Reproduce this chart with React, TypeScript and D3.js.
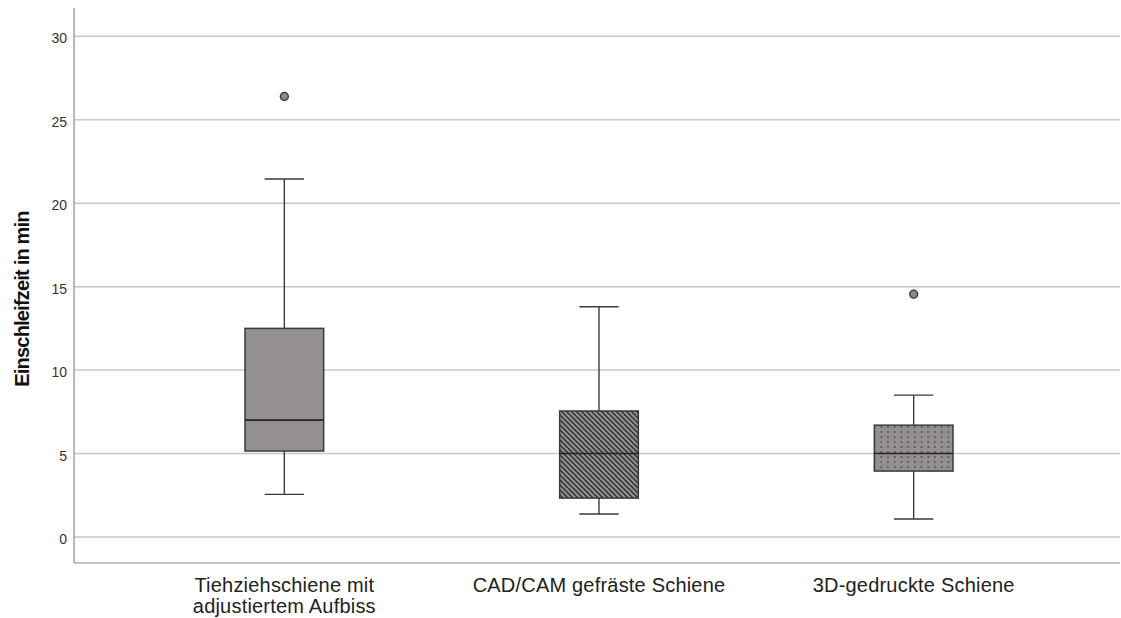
import React from "react";
import * as d3 from "d3";

const categories = ["Tiehziehschiene mit\nadjustiertem Aufbiss", "CAD/CAM gefräste Schiene", "3D-gedruckte Schiene"];
const whiskerLow = [2.55, 1.38, 1.08];
const q1 = [5.15, 2.33, 3.95];
const medians = [7.0, 5.0, 5.0];
const q3 = [12.5, 7.55, 6.7];
const whiskerHigh = [21.45, 13.8, 8.5];
const outliers = [[26.4], [], [14.55]];
const yTicks = [0, 5, 10, 15, 20, 25, 30];
const fills = ["url(#solid)", "url(#hatch)", "url(#dots)"];

const W = 1121;
const H = 618;
const left = 74;
const right = 1120;
const top = 8;
const bottom = 563;

export default function App() {
  const y = d3.scaleLinear().domain([-1.56, 31.7]).range([bottom, top]);
  const x = d3.scaleBand().domain(categories).range([127, 1071]).padding(0);
  const boxW = x.bandwidth() * 0.25;
  const capW = boxW / 2;
  const boxFill = "#959090";
  const edge = "#3a3a3a";

  return (
    <svg width={W} height={H} style={{ position: "absolute", left: 0, top: 0, fontFamily: "'Liberation Sans', Arial, sans-serif" }}>
      <defs>
        <pattern id="solid" width="4" height="4" patternUnits="userSpaceOnUse">
          <rect width="4" height="4" fill={boxFill} />
        </pattern>
        <pattern id="hatch" width="5" height="5" patternUnits="userSpaceOnUse">
          <rect width="5" height="5" fill={boxFill} />
          <path d="M-1,-1 L6,6 M-1,4 L1,6 M4,-1 L6,1" stroke="#2a2a2a" strokeWidth="1.3" />
        </pattern>
        <pattern id="dots" width="6.7" height="5" patternUnits="userSpaceOnUse">
          <rect width="6.7" height="5" fill={boxFill} />
          <rect x="3" y="1" width="1.2" height="2" fill="#4a4545" />
        </pattern>
      </defs>
      <rect width={W} height={H} fill="#fff" />
      {yTicks.map((t) => (
        <g key={t}>
          <line x1={left} x2={right} y1={y(t)} y2={y(t)} stroke="#c8c8c8" strokeWidth={1.5} />
          <text x={67} y={y(t)} dy="0.5em" textAnchor="end" fontSize={14} fill="#333">{t}</text>
        </g>
      ))}
      <line x1={left} x2={left} y1={top} y2={bottom} stroke="#8a8a8a" strokeWidth={1.2} />
      <line x1={left} x2={right} y1={bottom} y2={bottom} stroke="#8a8a8a" strokeWidth={1.2} />
      <text transform="translate(29,299) rotate(-90)" textAnchor="middle" fontSize={20} fontWeight="bold" letterSpacing={-0.8} fill="#111">
        Einschleifzeit in min
      </text>
      {categories.map((c, i) => {
        const cx = (x(c) as number) + x.bandwidth() / 2;
        return (
          <g key={c}>
            <line x1={cx} x2={cx} y1={y(whiskerHigh[i])} y2={y(q3[i])} stroke={edge} strokeWidth={1.4} />
            <line x1={cx} x2={cx} y1={y(q1[i])} y2={y(whiskerLow[i])} stroke={edge} strokeWidth={1.4} />
            <line x1={cx - capW / 2} x2={cx + capW / 2} y1={y(whiskerHigh[i])} y2={y(whiskerHigh[i])} stroke={edge} strokeWidth={1.4} />
            <line x1={cx - capW / 2} x2={cx + capW / 2} y1={y(whiskerLow[i])} y2={y(whiskerLow[i])} stroke={edge} strokeWidth={1.4} />
            <rect x={cx - boxW / 2} width={boxW} y={y(q3[i])} height={y(q1[i]) - y(q3[i])} fill={fills[i]} stroke={edge} strokeWidth={1.5} />
            <line x1={cx - boxW / 2} x2={cx + boxW / 2} y1={y(medians[i])} y2={y(medians[i])} stroke="#222" strokeWidth={1.6} />
            {outliers[i].map((o, j) => (
              <circle key={j} cx={cx} cy={y(o)} r={4} fill="#8c8787" stroke="#333" strokeWidth={1.3} />
            ))}
            {c.split("\n").map((line, k) => (
              <text key={k} x={cx} y={592 + k * 21} textAnchor="middle" fontSize={20} letterSpacing={0.2} fill="#222">{line}</text>
            ))}
          </g>
        );
      })}
    </svg>
  );
}
